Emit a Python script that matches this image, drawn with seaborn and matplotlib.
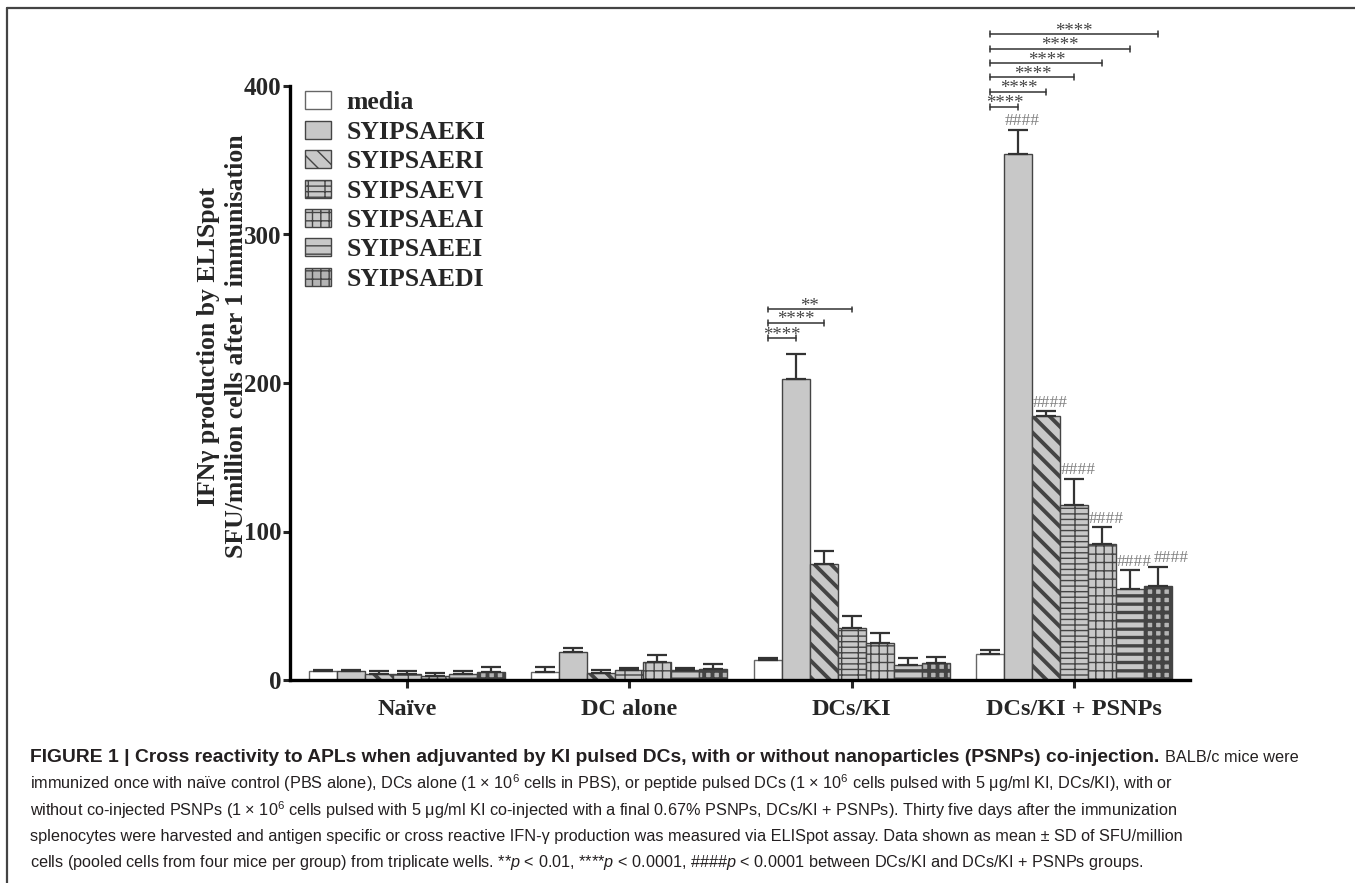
import numpy as np
import pandas as pd
import matplotlib.pyplot as plt
import seaborn as sns
from matplotlib.lines import Line2D

sns.set_style("ticks")
plt.rcParams['font.family'] = ['Liberation Serif', 'DejaVu Serif']
plt.rcParams['mathtext.fontset'] = 'custom'
plt.rcParams['mathtext.rm'] = 'Liberation Sans'
plt.rcParams['mathtext.it'] = 'Liberation Sans:italic'
plt.rcParams['hatch.linewidth'] = 1.0

# data (SFU/million cells, mean and SD)
groups = ["Naïve", "DC alone", "DCs/KI", "DCs/KI + PSNPs"]
peptides = ["media", "SYIPSAEKI", "SYIPSAERI", "SYIPSAEVI", "SYIPSAEAI", "SYIPSAEEI", "SYIPSAEDI"]

naive_mean = [6, 6, 4, 4, 3, 4, 5.5]
naive_sd = [1, 1, 2, 2, 2, 2, 3]
dc_alone_mean = [5.5, 19, 5, 7, 12, 7, 7.5]
dc_alone_sd = [3.5, 2.5, 1.5, 1, 5, 1, 3]
dcs_ki_mean = [13.7, 203, 78, 34.7, 24.8, 10, 11.7]
dcs_ki_sd = [1.3, 16.6, 8.7, 8.1, 6.7, 4.6, 4.1]
psnp_mean = [17.6, 354, 178, 117.6, 91.4, 61.3, 63.5]
psnp_sd = [2.4, 16.5, 3, 18, 11.5, 12.6, 12.9]

# significance brackets (media vs peptide index)
ki_pairs = [1, 2, 3]
ki_levels = [230, 240.5, 249.5]
ki_labels = ["****", "****", "**"]
psnp_pairs = [1, 2, 3, 4, 5, 6]
psnp_levels = [386, 396, 406, 415.5, 425, 435]
psnp_labels = ["****"] * 6
hash_peptides = [1, 2, 3, 4, 5, 6]

means = [naive_mean, dc_alone_mean, dcs_ki_mean, psnp_mean]
sds = [naive_sd, dc_alone_sd, dcs_ki_sd, psnp_sd]

rows = []
for g, m in zip(groups, means):
    for p, v in zip(peptides, m):
        rows.append({"group": g, "peptide": p, "value": v})
df = pd.DataFrame(rows)

# bar styles
fills = ["white", "#c8c8c8", "#c8c8c8", "#c8c8c8", "#c8c8c8", "#c8c8c8", "#b4b4b4"]
hatches = [None, None, "\\\\", "---|", "++", "--", "++"]
hatch_lws = [1.0, 1.0, 2.8, 1.0, 1.0, 2.4, 2.8]

fig = plt.figure(figsize=(13.55, 8.83), dpi=100)
ax = fig.add_axes([290 / 1355, 1 - 680 / 883, 900 / 1355, 594 / 883])

sns.barplot(data=df, x="group", y="value", hue="peptide", order=groups, hue_order=peptides,
            palette=dict(zip(peptides, fills)), saturation=1, width=0.88, errorbar=None,
            edgecolor="#444444", linewidth=1.0, legend=False, ax=ax)
bar_containers = list(ax.containers)

tops = {}
for i, cont in enumerate(bar_containers):
    for p in cont:
        if hatches[i]:
            p.set_hatch(hatches[i])
            if hasattr(p, "set_hatch_linewidth"):
                p.set_hatch_linewidth(hatch_lws[i])
        if i == 0:
            p.set_edgecolor("#666666")
        xc = p.get_x() + p.get_width() / 2
        j = int(round(xc))
        sd = sds[j][i]
        ax.errorbar([xc], [p.get_height()], yerr=[[0], [sd]], fmt="none", ecolor="#333333",
                    elinewidth=1.6, capsize=7, capthick=1.6, zorder=3)
        tops[(j, i)] = (xc, p.get_height() + sd)


def bracket(x1, x2, y, label):
    ax.plot([x1, x2], [y, y], color="#333333", lw=1.1, clip_on=False, zorder=4)
    for x in (x1, x2):
        ax.plot([x, x], [y - 2, y + 2], color="#333333", lw=1.1, clip_on=False, zorder=4)
    ax.text((x1 + x2) / 2, y + 2, label, ha="center", va="center", fontsize=13.5,
            color="#444444", clip_on=False)


for k, lvl, lab in zip(ki_pairs, ki_levels, ki_labels):
    bracket(tops[(2, 0)][0], tops[(2, k)][0], lvl, lab)
for k, lvl, lab in zip(psnp_pairs, psnp_levels, psnp_labels):
    bracket(tops[(3, 0)][0], tops[(3, k)][0], lvl, lab)

for k in hash_peptides:
    xc, yt = tops[(3, k)]
    dx = 9 if k == 6 else 3
    ax.annotate("####", (xc, yt), xytext=(dx, 6), textcoords="offset points",
                ha="center", va="center", fontsize=12.5, color="#808080", annotation_clip=False)

ax.set_ylim(0, 400)
ax.set_xlim(-0.525, 3.52)
ax.set_yticks([0, 100, 200, 300, 400])
ax.set_xlabel("")
ax.set_ylabel("")
sns.despine(ax=ax)
for s in ("left", "bottom"):
    ax.spines[s].set_linewidth(2.4)
    ax.spines[s].set_color("black")
ax.tick_params(axis="y", length=5, width=2.2, pad=1, labelsize=18)
ax.tick_params(axis="x", length=6, width=2.2, pad=8, labelsize=17.5)
for lab in ax.get_xticklabels() + ax.get_yticklabels():
    lab.set_fontweight("bold")

ax.text(-0.075, 0.562, "IFNγ production by ELISpot\nSFU/million cells after 1 immunisation",
        transform=ax.transAxes, rotation=90, ha="center", va="center", fontsize=18.5,
        fontweight="bold", linespacing=1.3)

ax.legend(handles=bar_containers, labels=peptides, loc="upper left", bbox_to_anchor=(0.0, 1.017),
          frameon=False, handlelength=1.0, handleheight=0.7, handletextpad=0.6,
          labelspacing=0.25, borderaxespad=0.2, prop={"weight": "bold", "size": 18.5})

# figure frame (top and left edges)
fig.add_artist(Line2D([7 / 1355, 1], [1 - 8 / 883, 1 - 8 / 883], color="#444444", lw=1.6))
fig.add_artist(Line2D([7 / 1355, 7 / 1355], [0, 1 - 8 / 883], color="#444444", lw=1.6))

# caption
cap_font = ["Liberation Sans", "DejaVu Sans"]
cap_size = 11.7
x0 = 30 / 1355
line_y = [757, 783, 810, 836, 862]
bold_part = "FIGURE 1 | Cross reactivity to APLs when adjuvanted by KI pulsed DCs, with or without nanoparticles (PSNPs) co-injection."
t_bold = fig.text(x0, 1 - line_y[0] / 883, bold_part, family=cap_font, fontsize=13.85,
                  fontweight="bold", va="center", color="#231f20")
fig.canvas.draw()
bb = t_bold.get_window_extent()
fig.text(bb.x1 / 1355 + 0.004, 1 - line_y[0] / 883, "BALB/c mice were", family=cap_font,
         fontsize=cap_size, va="center", color="#231f20")
rest = [
    r"immunized once with naïve control (PBS alone), DCs alone (1 × 10$^{6}$ cells in PBS), or peptide pulsed DCs (1 × 10$^{6}$ cells pulsed with 5 μg/ml KI, DCs/KI), with or",
    r"without co-injected PSNPs (1 × 10$^{6}$ cells pulsed with 5 μg/ml KI co-injected with a final 0.67% PSNPs, DCs/KI + PSNPs). Thirty five days after the immunization",
    r"splenocytes were harvested and antigen specific or cross reactive IFN-γ production was measured via ELISpot assay. Data shown as mean ± SD of SFU/million",
    r"cells (pooled cells from four mice per group) from triplicate wells. **$p$ < 0.01, ****$p$ < 0.0001, ####$p$ < 0.0001 between DCs/KI and DCs/KI + PSNPs groups.",
]
for yy, line in zip(line_y[1:], rest):
    fig.text(x0, 1 - yy / 883, line, family=cap_font, fontsize=cap_size, va="center", color="#231f20")

fig.savefig("out.png", dpi=100)
